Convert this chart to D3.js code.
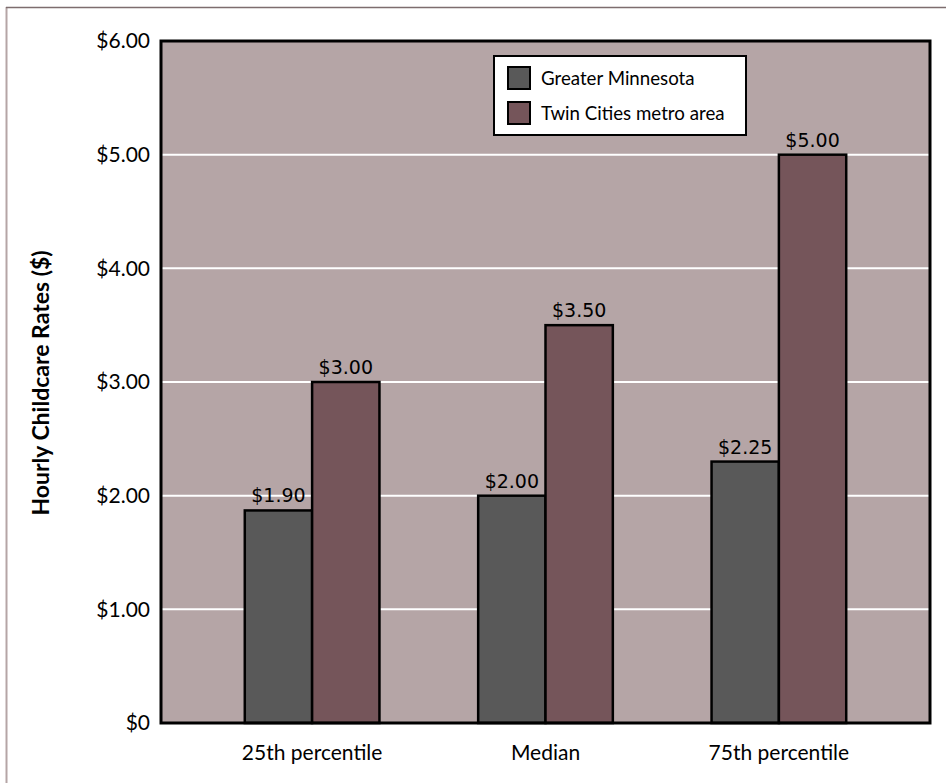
<!DOCTYPE html>
<html><head><meta charset="utf-8">
<script src="https://cdn.jsdelivr.net/npm/d3@7"></script>
<style>body{margin:0;background:#fff}svg{display:block}</style>
</head><body>
<script>
const categories = ["25th percentile", "Median", "75th percentile"];
const seriesNames = ["Greater Minnesota", "Twin Cities metro area"];
const greaterMN = [1.87, 2.0, 2.3];
const twinCities = [3.0, 3.5, 5.0];
const greaterLabels = ["$1.90", "$2.00", "$2.25"];
const twinLabels = ["$3.00", "$3.50", "$5.00"];
const yTicks = [0, 1, 2, 3, 4, 5, 6];
const yTickLabels = ["$0", "$1.00", "$2.00", "$3.00", "$4.00", "$5.00", "$6.00"];
const colors = ["#595959", "#75555a"];

const W = 946, H = 783;
const L = 161, R = 930, T = 41, B = 723;
const svg = d3.select("body").append("svg").attr("width", W).attr("height", H);

// outer frame
svg.append("line").attr("x1", 6.5).attr("x2", 6.5).attr("y1", 7).attr("y2", H).attr("stroke", "#b5a5a6").attr("stroke-width", 2);
svg.append("line").attr("x1", 6).attr("x2", W).attr("y1", 7.5).attr("y2", 7.5).attr("stroke", "#7d6d6e").attr("stroke-width", 1.5);

const x = d3.scaleBand().domain(categories).range([L, R]).paddingInner(0.423).paddingOuter(0.359);
const xs = d3.scaleBand().domain([0, 1]).range([0, x.bandwidth()]);
const y = d3.scaleLinear().domain([0, 6]).range([B, T]);

svg.append("rect").attr("x", L).attr("y", T).attr("width", R - L).attr("height", B - T).attr("fill", "#b5a5a6");

// gridlines
svg.append("g").selectAll("line").data(yTicks.filter(d => d > 0 && d < 6)).join("line")
  .attr("x1", L).attr("x2", R).attr("y1", d => y(d)).attr("y2", d => y(d))
  .attr("stroke", "#ffffff").attr("stroke-width", 2);

const series = [greaterMN, twinCities];
const labels = [greaterLabels, twinLabels];
series.forEach((vals, si) => {
  const g = svg.append("g");
  g.selectAll("rect").data(vals).join("rect")
    .attr("x", (d, i) => x(categories[i]) + xs(si))
    .attr("y", d => y(d))
    .attr("width", xs.bandwidth())
    .attr("height", d => y(0) - y(d))
    .attr("fill", colors[si]).attr("stroke", "#000").attr("stroke-width", 2.5);
  g.selectAll("text").data(vals).join("text")
    .attr("x", (d, i) => x(categories[i]) + xs(si) + xs.bandwidth() / 2)
    .attr("y", d => y(d) - 8)
    .attr("text-anchor", "middle")
    .attr("font-family", "DejaVu Sans").attr("font-size", 19).attr("fill", "#000")
    .text((d, i) => labels[si][i]);
});

// plot border
svg.append("rect").attr("x", L).attr("y", T).attr("width", R - L).attr("height", B - T)
  .attr("fill", "none").attr("stroke", "#000").attr("stroke-width", 3);

// y axis labels
const yAxis = d3.axisLeft(y).tickValues(yTicks).tickFormat((d, i) => yTickLabels[i]).tickSize(0).tickPadding(11);
const ya = svg.append("g").attr("transform", `translate(${L},0)`).call(yAxis);
ya.select(".domain").remove();
ya.selectAll("text").attr("font-family", "Lato").attr("font-size", 21).attr("fill", "#000");

// x axis labels
const xAxis = d3.axisBottom(x).tickSize(0).tickPadding(22);
const xa = svg.append("g").attr("transform", `translate(0,${B})`).call(xAxis);
xa.select(".domain").remove();
xa.selectAll("text").attr("font-family", "Lato").attr("font-size", 21).attr("fill", "#000");

// y title
svg.append("text").attr("transform", `translate(49,383) rotate(-90)`)
  .attr("text-anchor", "middle").attr("font-family", "Lato").attr("font-weight", "bold")
  .attr("font-size", 23).attr("fill", "#000").text("Hourly Childcare Rates ($)");

// legend
const lg = svg.append("g").attr("transform", "translate(494,56)");
lg.append("rect").attr("width", 252).attr("height", 79).attr("fill", "#fff").attr("stroke", "#000").attr("stroke-width", 2);
seriesNames.forEach((n, i) => {
  lg.append("rect").attr("x", 14).attr("y", 11 + i * 35).attr("width", 22).attr("height", 22)
    .attr("fill", colors[i]).attr("stroke", "#000").attr("stroke-width", 2);
  lg.append("text").attr("x", 47).attr("y", 29 + i * 35).attr("font-family", "Lato")
    .attr("font-size", 18.7).attr("fill", "#000").text(n);
});
</script>
</body></html>
